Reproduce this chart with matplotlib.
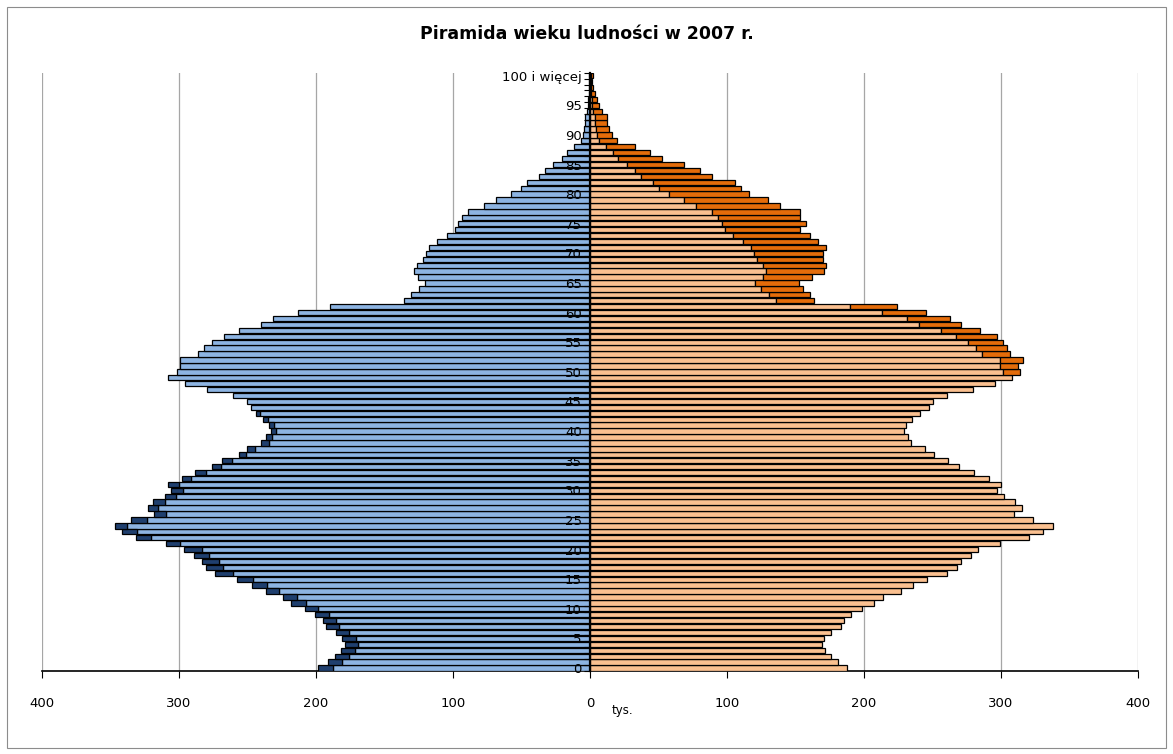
import numpy as np
import matplotlib.pyplot as plt
from matplotlib.patches import Rectangle

# Population by single year of age, thousands (age 0 .. 100 i wiecej)
ages = list(range(101))
males = [198.3, 191.2, 185.9, 182.0, 179.0, 180.8, 185.4, 192.7, 194.6, 200.7,
         208.3, 218.5, 223.8, 236.3, 246.5, 257.4, 273.7, 280.3, 283.0, 289.0,
         296.0, 309.7, 331.6, 341.4, 347.0, 334.8, 318.1, 322.9, 318.9, 310.0,
         306.2, 307.7, 297.6, 288.3, 276.2, 268.4, 256.0, 250.6, 239.9, 236.7,
         233.1, 234.5, 238.4, 243.5, 247.7, 250.4, 260.8, 279.3, 295.6, 308.3,
         301.5, 299.0, 299.3, 285.8, 281.8, 276.2, 267.4, 256.0, 240.4, 231.3,
         213.3, 190.1, 135.9, 130.4, 124.8, 120.4, 125.9, 128.4, 126.4, 121.6,
         119.6, 117.5, 111.6, 104.4, 98.5, 96.4, 93.2, 88.8, 77.1, 68.9,
         57.7, 50.4, 46.2, 37.2, 33.1, 27.3, 20.7, 17.0, 11.4, 6.6,
         5.4, 4.4, 3.6, 3.6, 2.5, 1.8, 1.3, 1.0, 0.7, 0.5,
         0.5]
females = [187.5, 180.7, 175.8, 171.2, 169.1, 170.5, 176.2, 183.0, 185.2, 190.2,
           198.3, 207.3, 214.1, 227.0, 235.8, 246.2, 260.6, 267.9, 270.6, 278.1,
           283.4, 299.3, 320.7, 330.4, 338.2, 323.6, 309.5, 315.4, 310.0, 302.1,
           297.3, 299.8, 291.1, 280.3, 269.5, 261.1, 250.9, 244.3, 234.5, 231.9,
           229.2, 230.8, 235.1, 241.0, 247.7, 250.4, 260.8, 279.3, 295.6, 308.3,
           314.1, 312.6, 315.8, 306.8, 304.1, 301.7, 296.8, 284.4, 271.0, 262.8,
           245.3, 224.3, 163.7, 160.3, 155.5, 152.8, 162.3, 171.0, 172.0, 170.3,
           170.3, 172.0, 166.7, 160.6, 153.3, 157.7, 153.3, 153.3, 138.5, 129.7,
           116.0, 110.0, 105.6, 89.3, 80.5, 68.9, 52.3, 44.0, 32.6, 20.0,
           16.0, 14.1, 12.2, 12.2, 8.8, 6.8, 4.9, 3.6, 2.4, 1.8,
           2.4]
ytick_pos = list(range(0, 101, 5))
ytick_labels = [str(a) for a in range(0, 100, 5)] + ['100 i więcej']
xtick_pos = [-400, -300, -200, -100, 0, 100, 200, 300, 400]
xtick_labels = ['400', '300', '200', '100', '0', '100', '200', '300', '400']

m = np.array(males)
f = np.array(females)
common = np.minimum(m, f)
m_extra = m - common
f_extra = f - common

fig = plt.figure(figsize=(11.73, 7.54), dpi=100)
ax = fig.add_axes([0.0358, 0.1101, 0.9344, 0.7935])

h = 0.9
kw = dict(height=h, edgecolor='black', linewidth=0.9, zorder=3)
ax.barh(ages, -common, color='#8DB4E2', **kw)
ax.barh(ages, common, color='#FAC090', **kw)
sel = m_extra > 0.05
ax.barh(np.array(ages)[sel], -m_extra[sel], left=-common[sel], color='#1F3F6E', **kw)
sel = f_extra > 0.05
ax.barh(np.array(ages)[sel], f_extra[sel], left=common[sel], color='#E46C0A', **kw)

ax.set_xlim(-400, 400)
ax.set_ylim(-0.5, 100.5)
ax.set_xticks(xtick_pos)
ax.set_xticklabels(xtick_labels, fontsize=9.5)
ax.tick_params(axis='x', direction='out', length=5, pad=14, color='black')
ax.xaxis.grid(True, color='#a6a6a6', linewidth=0.9)
ax.set_axisbelow(True)
ax.yaxis.set_zorder(6)

ax.spines['left'].set_position(('data', 0))
ax.spines['left'].set_linewidth(1.6)
ax.spines['left'].set_zorder(5)
ax.spines['bottom'].set_linewidth(1.2)
ax.spines['top'].set_visible(False)
ax.spines['right'].set_visible(False)
ax.set_yticks(ytick_pos)
ax.set_yticklabels(ytick_labels, fontsize=9.5)
ax.set_yticks(np.arange(-0.5, 101, 1), minor=True)
ax.tick_params(axis='y', which='major', length=0, pad=6)
ax.tick_params(axis='y', which='minor', length=4, width=0.8, direction='out')

ax.annotate('tys.', xy=(16, -0.066), xycoords=('data', 'axes fraction'),
            fontsize=8.5, ha='left', va='center', annotation_clip=False)

fig.suptitle('Piramida wieku ludności w 2007 r.', fontsize=12.5, fontweight='bold',
             y=0.967)

fig.patches.append(Rectangle((0.006, 0.008), 0.988, 0.983, transform=fig.transFigure,
                             fill=False, edgecolor='#8c8c8c', linewidth=0.8))

fig.savefig('out.png', dpi=100)
